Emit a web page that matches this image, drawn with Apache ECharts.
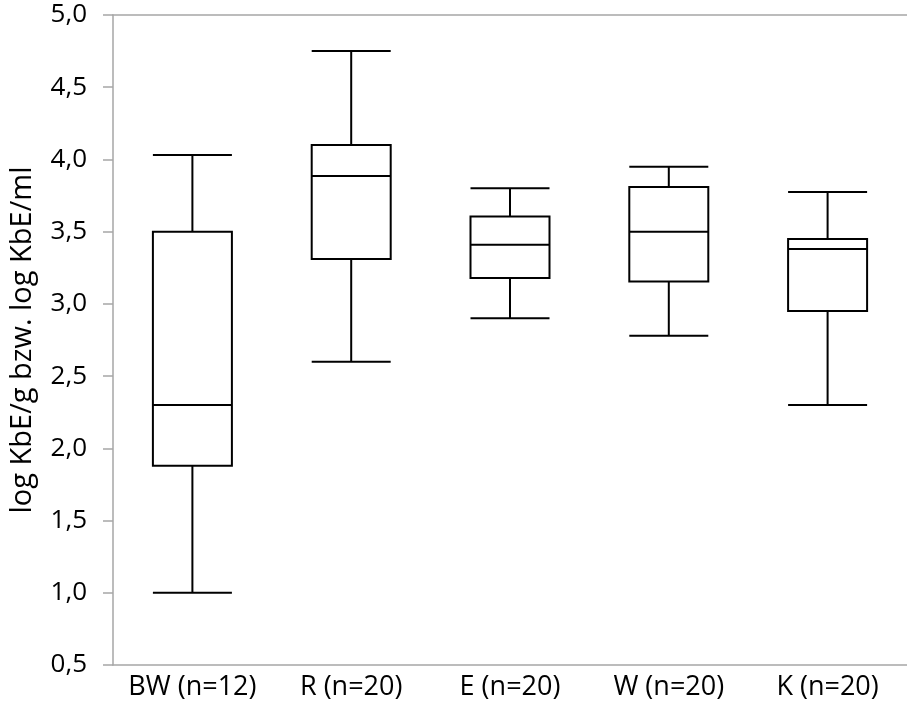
<!DOCTYPE html>
<html>
<head>
<meta charset="utf-8">
<script src="https://cdn.jsdelivr.net/npm/echarts@6/dist/echarts.min.js"></script>
<style>html,body{margin:0;padding:0;background:#fff}#c{width:907px;height:704px}</style>
</head>
<body>
<div id="c"></div>
<script>
var categories = ['BW (n=12)', 'R (n=20)', 'E (n=20)', 'W (n=20)', 'K (n=20)'];
var minVals    = [1.00, 2.60, 2.90, 2.78, 2.30];
var q1Vals     = [1.88, 3.31, 3.18, 3.155, 2.95];
var medianVals = [2.30, 3.885, 3.41, 3.50, 3.38];
var q3Vals     = [3.50, 4.10, 3.605, 3.81, 3.45];
var maxVals    = [4.03, 4.75, 3.80, 3.95, 3.775];
var yTicks = {min: 0.5, max: 5.0, interval: 0.5};
var yName = 'log KbE/g bzw. log KbE/ml';

var boxData = categories.map(function (c, i) {
  return [minVals[i], q1Vals[i], medianVals[i], q3Vals[i], maxVals[i]];
});
var font = '"Open Sans", "Noto Sans", sans-serif';
var chart = echarts.init(document.getElementById('c'), null, {renderer: 'canvas'});
chart.setOption({
  animation: false,
  backgroundColor: '#fff',
  grid: {left: 110, width: 806, top: 15, height: 650, containLabel: false},
  xAxis: [{
    type: 'category', data: categories, position: 'bottom',
    axisLine: {lineStyle: {color: '#a6a6a6', width: 1.5}},
    axisTick: {show: false},
    axisLabel: {color: '#000', fontFamily: font, fontSize: 27, margin: 9, interval: 0},
    splitLine: {show: false}
  }, {
    type: 'category', data: categories, position: 'top',
    axisLine: {lineStyle: {color: '#a6a6a6', width: 1.5}},
    axisTick: {show: false}, axisLabel: {show: false}
  }],
  yAxis: {
    type: 'value', min: yTicks.min, max: yTicks.max, interval: yTicks.interval,
    name: yName, nameLocation: 'middle', nameGap: 76,
    nameTextStyle: {color: '#000', fontFamily: font, fontSize: 29},
    axisLine: {show: true, lineStyle: {color: '#a6a6a6', width: 1.5}},
    axisTick: {show: true, length: 10, lineStyle: {color: '#a6a6a6', width: 1.5}},
    axisLabel: {color: '#000', fontFamily: font, fontSize: 26, margin: 26,
      formatter: function (v) { return v.toFixed(1).replace('.', ','); }},
    splitLine: {show: false}
  },
  series: [{
    type: 'boxplot',
    data: boxData,
    boxWidth: [79, 79],
    itemStyle: {color: '#fff', borderColor: '#000', borderWidth: 2},
    emphasis: {disabled: true}
  }]
});
</script>
</body>
</html>
